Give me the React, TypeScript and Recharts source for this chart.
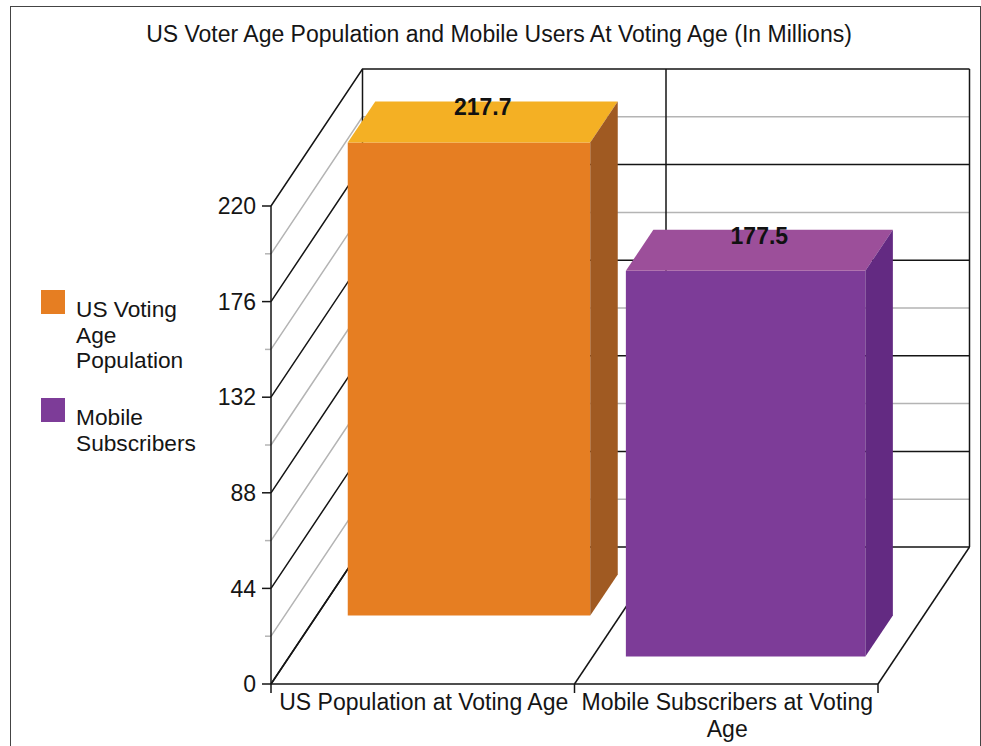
import { Bar, BarChart, CartesianGrid, Legend, XAxis, YAxis } from 'recharts';

const categories = ['US Population at Voting Age', 'Mobile Subscribers at Voting Age'];
const categoryLines = [['US Population at Voting Age'], ['Mobile Subscribers at Voting', 'Age']];
const populationValues = [217.7, null];
const mobileValues = [null, 177.5];
const yTicks = [0, 44, 88, 132, 176, 220];
const minorTicks = [22, 66, 110, 154, 198];

const data = categories.map((name, i) => ({
  name,
  population: populationValues[i],
  mobile: mobileValues[i],
}));

const WIDTH = 981;
const HEIGHT = 746;
const PLOT_LEFT = 271;
const MARGIN = { top: 206, right: 103, bottom: 0, left: 0 };
const XAXIS_HEIGHT = 62;
const PLOT_WIDTH = WIDTH - PLOT_LEFT - MARGIN.right;
const BAND = PLOT_WIDTH / categories.length;
const BAND_EDGES = [PLOT_LEFT, PLOT_LEFT + BAND, PLOT_LEFT + 2 * BAND];

// depth of the box the chart sits in
const DEPTH_X = 91.5;
const DEPTH_Y = 137;
const FONT = '"Liberation Sans", Arial, sans-serif';
const FONT_SIZE = 23;
const INK = '#151515';

// left wall and back wall line for one y value
const wallLine = (stroke: string, minor: boolean) => (props: any) => {
  const { x1, y1, x2, index } = props;
  const backY = y1 - DEPTH_Y;
  return (
    <g key={index} fill="none" stroke={stroke} strokeWidth={1.5}>
      <polyline points={`${x1},${y1} ${x1 + DEPTH_X},${backY} ${x2 + DEPTH_X},${backY}`} />
      {minor && <line x1={x1 - 6} y1={y1} x2={x1} y2={y1} />}
    </g>
  );
};

// floor edge and back wall upright at each category boundary
const wallUpright = (props: any) => {
  const { x1, y1, y2, index } = props;
  return (
    <g key={index} fill="none" stroke={INK} strokeWidth={1.5}>
      <line x1={x1} y1={y2} x2={x1 + DEPTH_X} y2={y2 - DEPTH_Y} />
      <line x1={x1 + DEPTH_X} y1={y2 - DEPTH_Y} x2={x1 + DEPTH_X} y2={y1 - DEPTH_Y} />
    </g>
  );
};

type BoxStyle = {
  shiftY: number; // how far back on the floor the box stands
  insetLeft: number;
  insetRight: number;
  front: string;
  top: string;
  side: string;
};

// 3D box: series sit at different depths on the floor
const box3d = (key: string, box: BoxStyle) => (props: any) => {
  const { x, y, width, height, payload } = props;
  const value = payload[key];
  if (value == null || !height) return <g />;
  const left = x + (box.shiftY * DEPTH_X) / DEPTH_Y + box.insetLeft;
  const right = x + (box.shiftY * DEPTH_X) / DEPTH_Y + width - box.insetRight;
  const top = y - box.shiftY;
  const bottom = top + height;
  const dx = 27.5;
  const dy = 41;
  return (
    <g>
      <rect x={left} y={top} width={right - left} height={height} fill={box.front} />
      <polygon points={`${left},${top} ${left + dx},${top - dy} ${right + dx},${top - dy} ${right},${top}`} fill={box.top} />
      <polygon points={`${right},${top} ${right + dx},${top - dy} ${right + dx},${bottom - dy} ${right},${bottom}`} fill={box.side} />
      <text
        x={(left + right) / 2 + dx / 2}
        y={top - dy + 14}
        textAnchor="middle"
        fontFamily={FONT}
        fontSize={FONT_SIZE}
        fontWeight="bold"
        fill="#111"
      >
        {value.toFixed(1)}
      </text>
    </g>
  );
};

const CategoryTick = (props: any) => {
  const { x, y, index } = props;
  const left = x - BAND / 2;
  return (
    <g>
      <line x1={left} y1={y} x2={left} y2={y + 9} stroke={INK} strokeWidth={1.5} />
      {index === categories.length - 1 && (
        <line x1={left + BAND} y1={y} x2={left + BAND} y2={y + 9} stroke={INK} strokeWidth={1.5} />
      )}
      <text x={x + 1} y={y + 26} textAnchor="middle" fontFamily={FONT} fontSize={FONT_SIZE} fill={INK}>
        {categoryLines[index].map((line, i) => (
          <tspan key={line} x={x + 1} dy={i === 0 ? 0 : 27}>
            {line}
          </tspan>
        ))}
      </text>
    </g>
  );
};

const LegendList = ({ payload }: any) => (
  <div style={{ fontFamily: FONT, fontSize: 22.7, lineHeight: '25.5px', color: INK }}>
    {payload.map((entry: any) => (
      <div key={entry.value} style={{ display: 'flex', marginBottom: 24.5 }}>
        <span style={{ width: 24, height: 24, background: entry.color, flexShrink: 0, marginRight: 11 }} />
        <span style={{ width: 125, marginTop: 7 }}>{entry.value}</span>
      </div>
    ))}
  </div>
);

export default function App() {
  return (
    <div style={{ position: 'absolute', left: 0, top: 0, width: WIDTH, height: HEIGHT, overflow: 'hidden', background: '#fff' }}>
      <div
        style={{
          position: 'absolute',
          left: 9.5,
          top: 6,
          width: 969,
          height: 760,
          border: '1.5px solid #444',
        }}
      />
      <BarChart
        width={WIDTH}
        height={HEIGHT}
        data={data}
        margin={MARGIN}
        barSize={241}
        style={{ position: 'absolute', left: 0, top: 0 }}
      >
        <text x={499} y={42} textAnchor="middle" fontFamily={FONT} fontSize={FONT_SIZE} fill={INK}>
          US Voter Age Population and Mobile Users At Voting Age (In Millions)
        </text>
        <CartesianGrid vertical={false} horizontal={wallLine('#b4b4b4', true)} horizontalValues={minorTicks} />
        <CartesianGrid vertical={false} horizontal={wallLine(INK, false)} horizontalValues={yTicks} />
        <CartesianGrid horizontal={false} vertical={wallUpright} verticalPoints={BAND_EDGES} />
        <XAxis
          dataKey="name"
          height={XAXIS_HEIGHT}
          interval={0}
          tick={CategoryTick}
          tickLine={false}
          tickSize={0}
          tickMargin={0}
          axisLine={{ stroke: INK, strokeWidth: 1.5 }}
        />
        <YAxis
          width={PLOT_LEFT}
          domain={[0, 220]}
          ticks={yTicks}
          tickSize={9}
          tickMargin={6}
          tick={{ fontFamily: FONT, fontSize: FONT_SIZE, fill: INK }}
          tickLine={{ stroke: INK, strokeWidth: 1.5 }}
          axisLine={{ stroke: INK, strokeWidth: 1.5 }}
        />
        <Bar
          dataKey="population"
          name="US Voting Age Population"
          stackId="a"
          fill="#E67E22"
          isAnimationActive={false}
          shape={box3d('population', {
            shiftY: 68.5,
            insetLeft: 0,
            insetRight: -1.5,
            front: '#E67E22',
            top: '#F4B024',
            side: '#A05A22',
          })}
        />
        <Bar
          dataKey="mobile"
          name="Mobile Subscribers"
          stackId="a"
          fill="#7D3C98"
          isAnimationActive={false}
          shape={box3d('mobile', {
            shiftY: 27.5,
            insetLeft: 2,
            insetRight: -0.5,
            front: '#7D3C98',
            top: '#9C4F9A',
            side: '#632A82',
          })}
        />
        <Legend
          layout="vertical"
          align="center"
          verticalAlign="middle"
          itemSorter={null}
          content={LegendList}
          wrapperStyle={{ left: 41, top: 290, width: 170 }}
        />
      </BarChart>
    </div>
  );
}
